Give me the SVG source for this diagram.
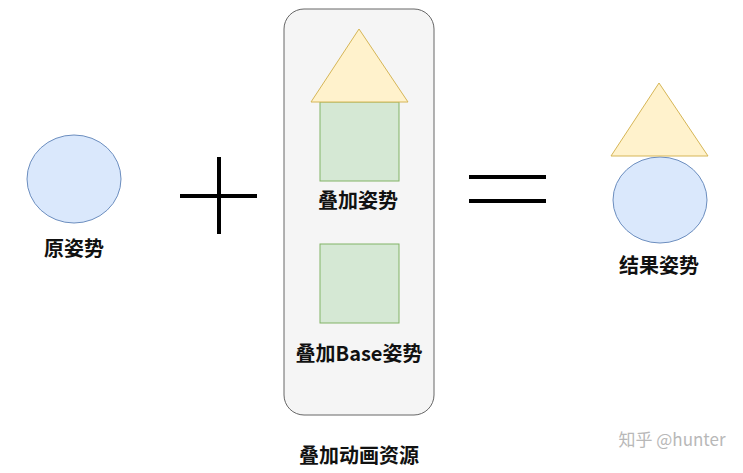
<svg xmlns="http://www.w3.org/2000/svg" width="743" height="473" viewBox="0 0 743 473">
<style>
.lbl{font-family:"Noto Sans CJK SC","Noto Sans",sans-serif;font-weight:bold;font-size:20px;fill:#111;text-anchor:middle;dominant-baseline:central}
.circ{fill:#dae8fc;stroke:#6c8ebf;stroke-width:1}
.tri{fill:#fff2cc;stroke:#d6b656;stroke-width:1}
.sq{fill:#d5e8d4;stroke:#82b366;stroke-width:1}
.op{stroke:#000;stroke-width:4;fill:none}
</style>
<rect width="743" height="473" fill="#fff"/>
<g id="original">
<ellipse class="circ" cx="74" cy="179" rx="47" ry="44"/>
<text class="lbl" x="74" y="247">原姿势</text>
</g>
<g id="plus">
<line class="op" x1="180" y1="196" x2="257" y2="196"/>
<line class="op" x1="219" y1="157" x2="219" y2="234"/>
</g>
<g id="container">
<rect x="284" y="9" width="150" height="406" rx="20" ry="20" fill="#f5f5f5" stroke="#666" stroke-width="1"/>
<text class="lbl" x="359" y="454">叠加动画资源</text>
</g>
<g id="additive">
<rect class="sq" x="320" y="102" width="79" height="79"/>
<polygon class="tri" points="359,29 408,102 311,102"/>
<text class="lbl" x="358" y="199">叠加姿势</text>
</g>
<g id="additive-base">
<rect class="sq" x="320" y="244" width="79" height="79"/>
<text class="lbl" x="359" y="352">叠加Base姿势</text>
</g>
<g id="equals">
<line class="op" x1="469" y1="177" x2="546" y2="177"/>
<line class="op" x1="469" y1="201" x2="546" y2="201"/>
</g>
<g id="result">
<ellipse class="circ" cx="660" cy="200" rx="47" ry="43"/>
<polygon class="tri" points="659,83 708,156 611,156"/>
<text class="lbl" x="659" y="264">结果姿势</text>
</g>
<g id="connectors"></g>
<text x="672" y="446" font-family="Noto Sans CJK SC,Noto Sans,sans-serif" font-size="17" fill="#b8b8b8" text-anchor="middle">知乎 @hunter</text>
</svg>
